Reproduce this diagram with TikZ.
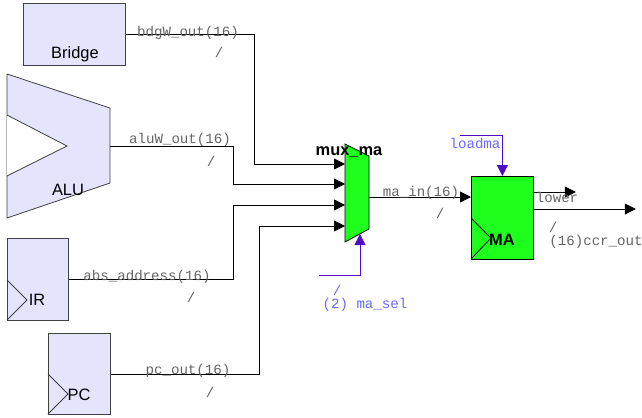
\documentclass[tikz,border=0pt]{standalone}
\usepackage{fontspec}
\setmainfont{Liberation Sans}
\newfontfamily\monofont{Liberation Mono}
\usetikzlibrary{arrows.meta}
\definecolor{lav}{RGB}{228,228,252}
\definecolor{grn}{RGB}{30,255,30}
\definecolor{purp}{RGB}{80,10,200}
\definecolor{plab}{RGB}{105,105,255}
\definecolor{glab}{RGB}{100,100,100}
\begin{document}
\begin{tikzpicture}[x=1bp,y=-1bp,
  blk/.style={draw=black!75, line width=0.8bp, inner sep=0, anchor=north west},
  wire/.style={draw=black, line width=0.8bp},
  arr/.style={-{Triangle[length=11bp,width=11bp]}},
  sel/.style={draw=purp, line width=0.8bp},
  wlab/.style={text=glab, font=\monofont\fontsize{14.2}{15}\selectfont, inner sep=0},
  plabel/.style={text=plab, font=\monofont\fontsize{14.2}{15}\selectfont, inner sep=0},
  blab/.style={font=\fontsize{16.5}{18}\selectfont, inner sep=0},
  bblab/.style={font=\bfseries\fontsize{16.5}{18}\selectfont, inner sep=0}]
\useasboundingbox (0,0) rectangle (642,417);

% Bridge
\node[blk, fill=lav, minimum width=102bp, minimum height=62bp] (bridge) at (23,3) {};
\node[blab] (bridgetxt) at (75,54) {Bridge};

% ALU
\draw[draw=black!75, fill=lav, line width=0.8bp] (7,74) -- (110,108) -- (110,183) -- (7,218) -- cycle;
\draw[draw=black!75, fill=white, line width=0.8bp] (7,115) -- (67,146) -- (7,176);
\coordinate (aluout) at (110,146);
\node[blab] (alutxt) at (68,190) {ALU};

% IR
\node[blk, fill=lav, minimum width=61bp, minimum height=82bp] (ir) at (7,238) {};
\draw[draw=black!75, line width=0.8bp] (7,280) -- (27,300) -- (7,320);
\node[blab] (irtxt) at (37,300) {IR};

% PC
\node[blk, fill=lav, minimum width=62bp, minimum height=81bp] (pc) at (48,333) {};
\draw[draw=black!75, line width=0.8bp] (48,374) -- (68,394) -- (48,414);
\node[blab] (pctxt) at (79,395) {PC};

% Mux
\draw[draw=black, fill=grn, line width=0.8bp] (345,144) -- (369,156) -- (369,229) -- (345,242) -- cycle;
\coordinate (m1) at (345,164);
\coordinate (m2) at (345,184);
\coordinate (m3) at (345,205);
\coordinate (m4) at (345,226);
\coordinate (mout) at (369,197);
\coordinate (msel) at (360,234);
\node[bblab] (muxtxt) at (349,152) {mux\_ma};

% MA
\node[blk, draw=black, fill=grn, minimum width=62bp, minimum height=83bp] (ma) at (471,176) {};
\draw[draw=black, line width=0.8bp] (471,218) -- (491,238) -- (471,259);
\node[bblab] (matxt) at (502,240) {MA};

% wires
\draw[wire, arr] (bridge.east) -- ++(129,0) |- (m1);
\draw[wire, arr] (aluout) -- ++(123,0) |- (m2);
\draw[wire, arr] (ir.east) -- ++(165,0) |- (m3);
\draw[wire, arr] (pc.east) -- ++(149,0) |- (m4);
\draw[wire, arr] (mout) -- (mout -| ma.west);
\draw[wire, arr] ([yshift=-16bp]ma.north east) -- ++(42,0);
\draw[wire, arr] ([yshift=-33bp]ma.north east) -- ++(102,0);

% select lines
\coordinate (selin) at (319,275);
\draw[sel, arr] (selin) -| (msel);
\coordinate (ldin) at (460,135);
\draw[sel, arr] (ldin) -| (ma.north);

% wire labels
\node[wlab] (l1) at (188,33) {bdgW\_out(16)};
\node[wlab] (l1s) at (219,52) {/};
\node[wlab] (l2) at (180,140) {aluW\_out(16)};
\node[wlab] (l2s) at (211,161) {/};
\node[wlab] (l3) at (147,277) {abs\_address(16)};
\node[wlab] (l3s) at (191,297) {/};
\node[wlab] (l4) at (188,371) {pc\_out(16)};
\node[wlab] (l4s) at (210,392) {/};
\node[wlab] (l5) at (421,193) {ma\_in(16)};
\node[wlab] (l5s) at (440,213) {/};
\node[wlab] (l6) at (557,197) {lower};
\node[wlab] (l7s) at (553,227) {/};
\node[wlab] (l7) at (596,242) {(16)ccr\_out};
\node[plabel] (l8) at (475,143) {loadma};
\node[plabel] (l9s) at (337,290) {/};
\node[plabel] (l9) at (365,305) {(2) ma\_sel};
\end{tikzpicture}
\end{document}
